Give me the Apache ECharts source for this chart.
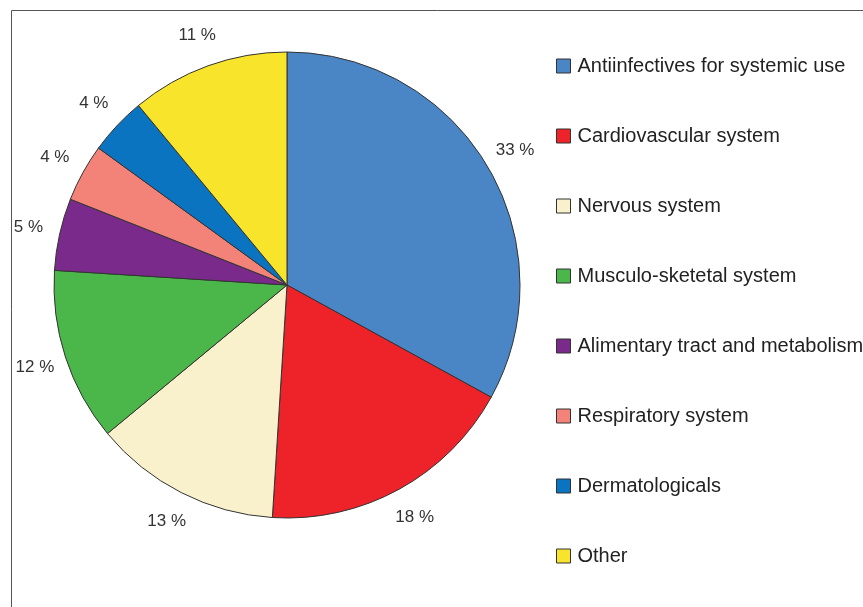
<!DOCTYPE html>
<html>
<head>
<meta charset="utf-8">
<script src="https://cdn.jsdelivr.net/npm/echarts@6/dist/echarts.min.js"></script>
<style>
html,body{margin:0;padding:0;background:#fff;}
#chart{width:863px;height:607px;}
</style>
</head>
<body>
<div id="chart"></div>
<script>
var categories = ["Antiinfectives for systemic use","Cardiovascular system","Nervous system","Musculo-sketetal system","Alimentary tract and metabolism","Respiratory system","Dermatologicals","Other"];
var values = [33, 18, 13, 12, 5, 4, 4, 11];
var colors = ["#4a86c6","#ee2229","#f9f0cc","#4bb74a","#7a2a8b","#f38379","#0a74c0","#f8e42a"];

var chart = echarts.init(document.getElementById('chart'), null, {renderer:'canvas'});
var mainData = categories.map(function(c,i){return {name:c, value:values[i], itemStyle:{color:colors[i]}};});
var labelData = categories.map(function(c,i){return {name:c, value:values[i]};});
var font = "'Liberation Sans', Arial, sans-serif";
chart.setOption({
  animation:false,
  backgroundColor:'#fff',
  graphic:[{type:'rect', shape:{x:11.5, y:10.5, width:1000, height:1000}, style:{fill:'none', stroke:'#555', lineWidth:1}, silent:true}],
  legend:{
    orient:'vertical', left:556, top:56, padding:0,
    itemWidth:14, itemHeight:14, itemGap:50,
    icon:'rect',
    data:categories,
    itemStyle:{borderColor:'#333', borderWidth:1},
    textStyle:{fontFamily:font, fontSize:20, lineHeight:20, color:'#222', padding:[0,0,0,2]},
    selectedMode:false
  },
  series:[
    {
      type:'pie', center:[287,285], radius:[0,233], startAngle:90, clockwise:true,
      data:mainData, label:{show:false}, labelLine:{show:false},
      itemStyle:{borderColor:'#333', borderWidth:1},
      emphasis:{disabled:true}, silent:true
    },
    {
      type:'pie', center:[287,285], radius:[252,272], startAngle:90, clockwise:true,
      data:labelData,
      itemStyle:{color:'rgba(0,0,0,0)', borderWidth:0},
      label:{show:true, position:'inside', formatter:'{c} %', fontFamily:font, fontSize:17, color:'#333'},
      labelLine:{show:false},
      emphasis:{disabled:true}, silent:true, legendHoverLink:false
    }
  ]
});
</script>
</body>
</html>
